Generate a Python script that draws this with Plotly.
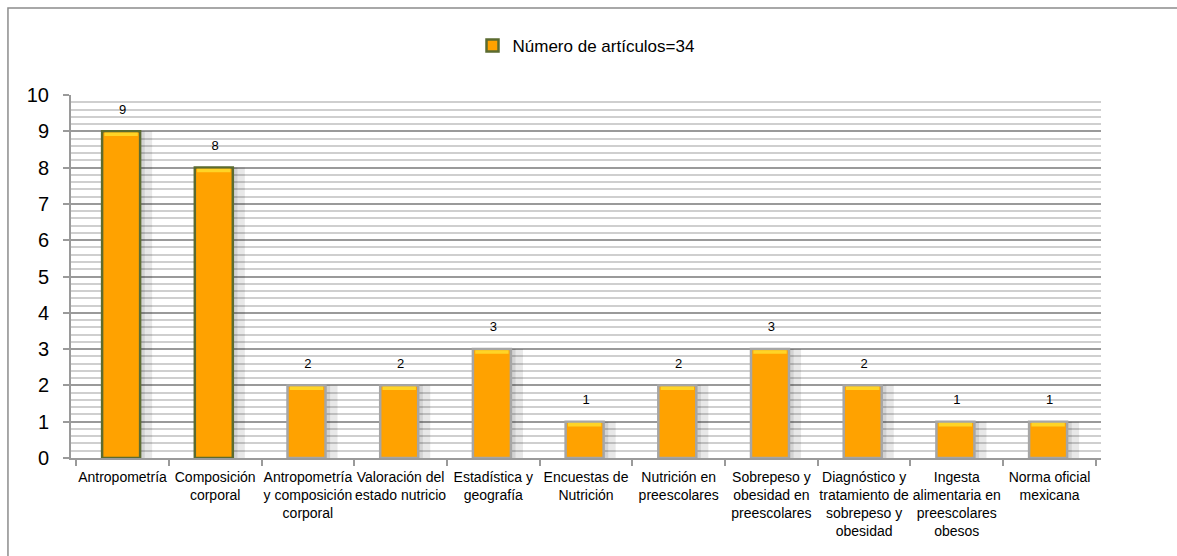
import plotly.graph_objects as go

categorias = [
    "Antropometría",
    "Composición<br>corporal",
    "Antropometría<br>y composición<br>corporal",
    "Valoración del<br>estado nutricio",
    "Estadística y<br>geografía",
    "Encuestas de<br>Nutrición",
    "Nutrición en<br>preescolares",
    "Sobrepeso y<br>obesidad en<br>preescolares",
    "Diagnóstico y<br>tratamiento de<br>sobrepeso y<br>obesidad",
    "Ingesta<br>alimentaria en<br>preescolares<br>obesos",
    "Norma oficial<br>mexicana",
]
articulos = [9, 8, 2, 2, 3, 1, 2, 3, 2, 1, 1]
serie = "Número de artículos=34"

FONT = "Liberation Sans, Arial"
borde = ["#5b6b30" if v >= 8 else "#a6a6a6" for v in articulos]

fig = go.Figure()

# sombra a la derecha de cada barra
fig.add_trace(go.Bar(
    x=categorias, y=articulos, width=0.5, offset=-0.18,
    marker=dict(color="rgba(0,0,0,0.09)", line=dict(width=0)),
    showlegend=False, hoverinfo="skip",
))
fig.add_trace(go.Bar(
    x=categorias, y=articulos, width=0.44, offset=-0.2,
    marker=dict(color="rgba(0,0,0,0.09)", line=dict(width=0)),
    showlegend=False, hoverinfo="skip",
))
# barra principal
fig.add_trace(go.Bar(
    x=categorias, y=articulos, width=0.41, offset=-0.22, name=serie,
    marker=dict(color="#ffa200", line=dict(color=borde, width=2.5)),
    hoverinfo="x+y",
))
# bisel amarillo superior
fig.add_trace(go.Bar(
    x=categorias, y=[0.1] * len(articulos), base=[v - 0.13 for v in articulos],
    width=0.36, offset=-0.195, marker=dict(color="#ffd426", line=dict(width=0)),
    showlegend=False, hoverinfo="skip",
))
# etiquetas de datos
fig.add_trace(go.Scatter(
    x=categorias, y=[v + 0.58 for v in articulos], text=articulos,
    mode="text", textfont=dict(family=FONT, size=13, color="#000000"),
    showlegend=False, hoverinfo="skip", cliponaxis=False,
))

fig.update_layout(
    width=1177, height=556,
    barmode="overlay",
    paper_bgcolor="white", plot_bgcolor="white",
    margin=dict(l=71, r=76, t=95, b=98),
    font=dict(family=FONT, color="#000000"),
    legend=dict(
        orientation="h", x=0.5, xanchor="center", y=1.135, yanchor="middle",
        font=dict(family=FONT, size=17), bgcolor="rgba(0,0,0,0)",
        itemwidth=30,
    ),
    shapes=[dict(
        type="rect", xref="paper", yref="paper",
        x0=-0.0612, x1=1.2, y0=-0.4, y1=1.2397,
        line=dict(color="#8c8c8c", width=1.5), layer="below",
    )],
)
fig.update_yaxes(
    range=[0, 10], dtick=1, tick0=0, automargin=False,
    showgrid=True, gridcolor="#9a9a9a", gridwidth=2,
    minor=dict(dtick=0.2, showgrid=True, gridcolor="#cfcfcf", gridwidth=2),
    showline=True, linecolor="#9a9a9a", linewidth=2,
    ticks="outside", ticklen=6, tickcolor="#9a9a9a", tickwidth=2,
    tickfont=dict(family=FONT, size=20), zeroline=False,
    ticklabelstandoff=10,
)
fig.update_xaxes(
    automargin=False,
    showline=True, linecolor="#9a9a9a", linewidth=2,
    ticks="outside", ticklen=6, tickcolor="#9a9a9a", tickwidth=2,
    tickson="boundaries", tickangle=0,
    tickfont=dict(family=FONT, size=14), ticklabelstandoff=5,
)

fig.write_html(
    "out.html",
    config={"displayModeBar": False},
    post_script="document.body.style.margin='0px';",
)
